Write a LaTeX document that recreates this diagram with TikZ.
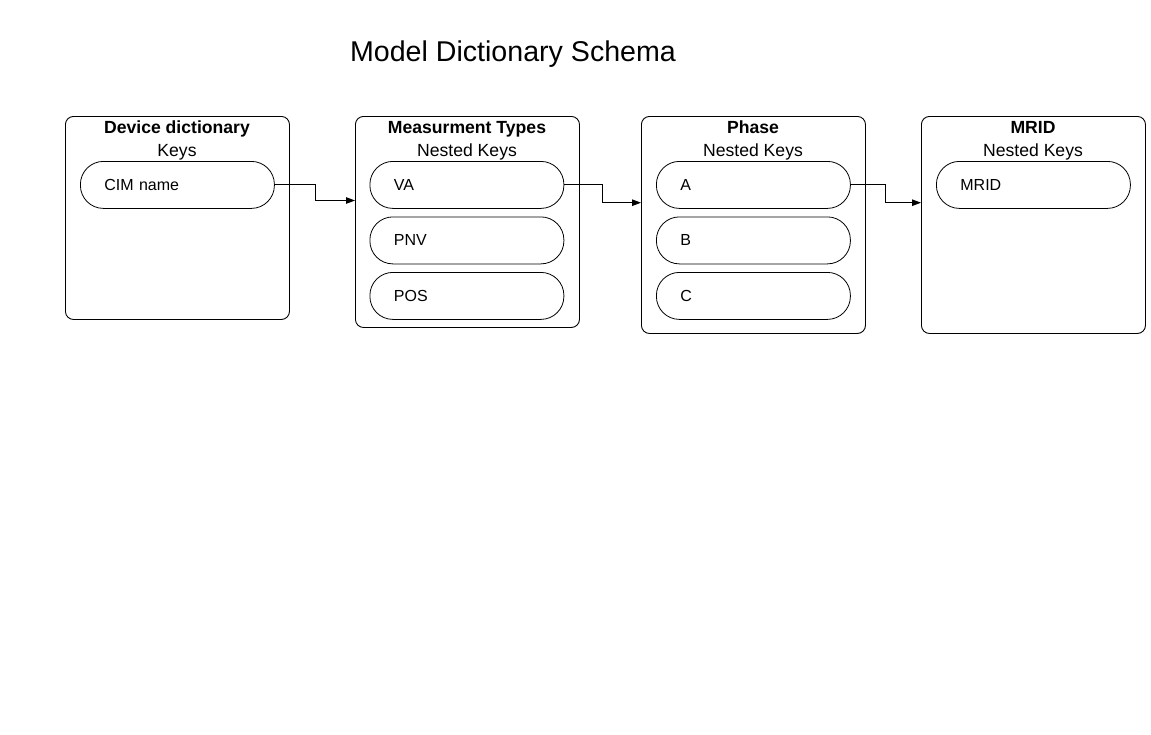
\documentclass[tikz,border=0pt]{standalone}
\usepackage{fontspec}
\setmainfont{Liberation Sans}
\usetikzlibrary{arrows.meta}
\begin{document}
\begin{tikzpicture}[x=1pt,y=-1pt,
  box/.style={draw, rounded corners=8pt, line width=0.9pt, minimum width=224pt, anchor=north west, inner sep=0pt},
  key/.style={draw, rounded corners=23pt, line width=0.8pt, minimum height=47pt, anchor=north west,
    inner xsep=24pt, inner ysep=0pt, text width=146pt, align=left, font=\fontsize{16}{19}\selectfont},
  head/.style={font=\fontsize{17.6}{20}\selectfont\bfseries, inner sep=0pt, anchor=base},
  sub/.style={font=\fontsize{17.6}{20}\selectfont, inner sep=0pt, anchor=base},
  conn/.style={line width=1pt, -{Triangle[length=9pt,width=6.5pt]}}]
\useasboundingbox (0,0) rectangle (1151,734);
\node[font=\fontsize{28.6}{33}\selectfont, inner sep=0pt, anchor=base] (title) at (513,61) {Model Dictionary Schema};

% boxes
\node[box, minimum height=203pt] (b1) at (65,116) {};
\node[box, minimum height=211pt] (b2) at (355,116) {};
\node[box, minimum height=217pt] (b3) at (641,116) {};
\node[box, minimum height=217pt] (b4) at (921,116) {};

% headings
\node[head] (h1) at (177,133) {Device dictionary};
\node[sub]  (s1) at (177,156) {Keys};
\node[head] (h2) at (467,133) {Measurment Types};
\node[sub]  (s2) at (467,156) {Nested Keys};
\node[head] (h3) at (753,133) {Phase};
\node[sub]  (s3) at (753,156) {Nested Keys};
\node[head] (h4) at (1033,133) {MRID};
\node[sub]  (s4) at (1033,156) {Nested Keys};

% keys
\node[key] (cim) at (80,161) {CIM name};
\node[key] (va)  at (369.5,161) {VA};
\node[key] (pnv) at (369.5,216.5) {PNV};
\node[key] (pos) at (369.5,272) {POS};
\node[key] (ka)  at (656,161) {A};
\node[key] (kb)  at (656,216.5) {B};
\node[key] (kc)  at (656,272) {C};
\node[key] (mrid) at (936,161) {MRID};

% connectors
\draw[conn] (cim.east) -- ++(41,0) |- (b2.west |- 0,200.5);
\draw[conn] (va.east) -- ++(38,0) |- (b3.west |- 0,202.7);
\draw[conn] (ka.east) -- ++(35,0) |- (b4.west |- 0,202.7);
\end{tikzpicture}
\end{document}
